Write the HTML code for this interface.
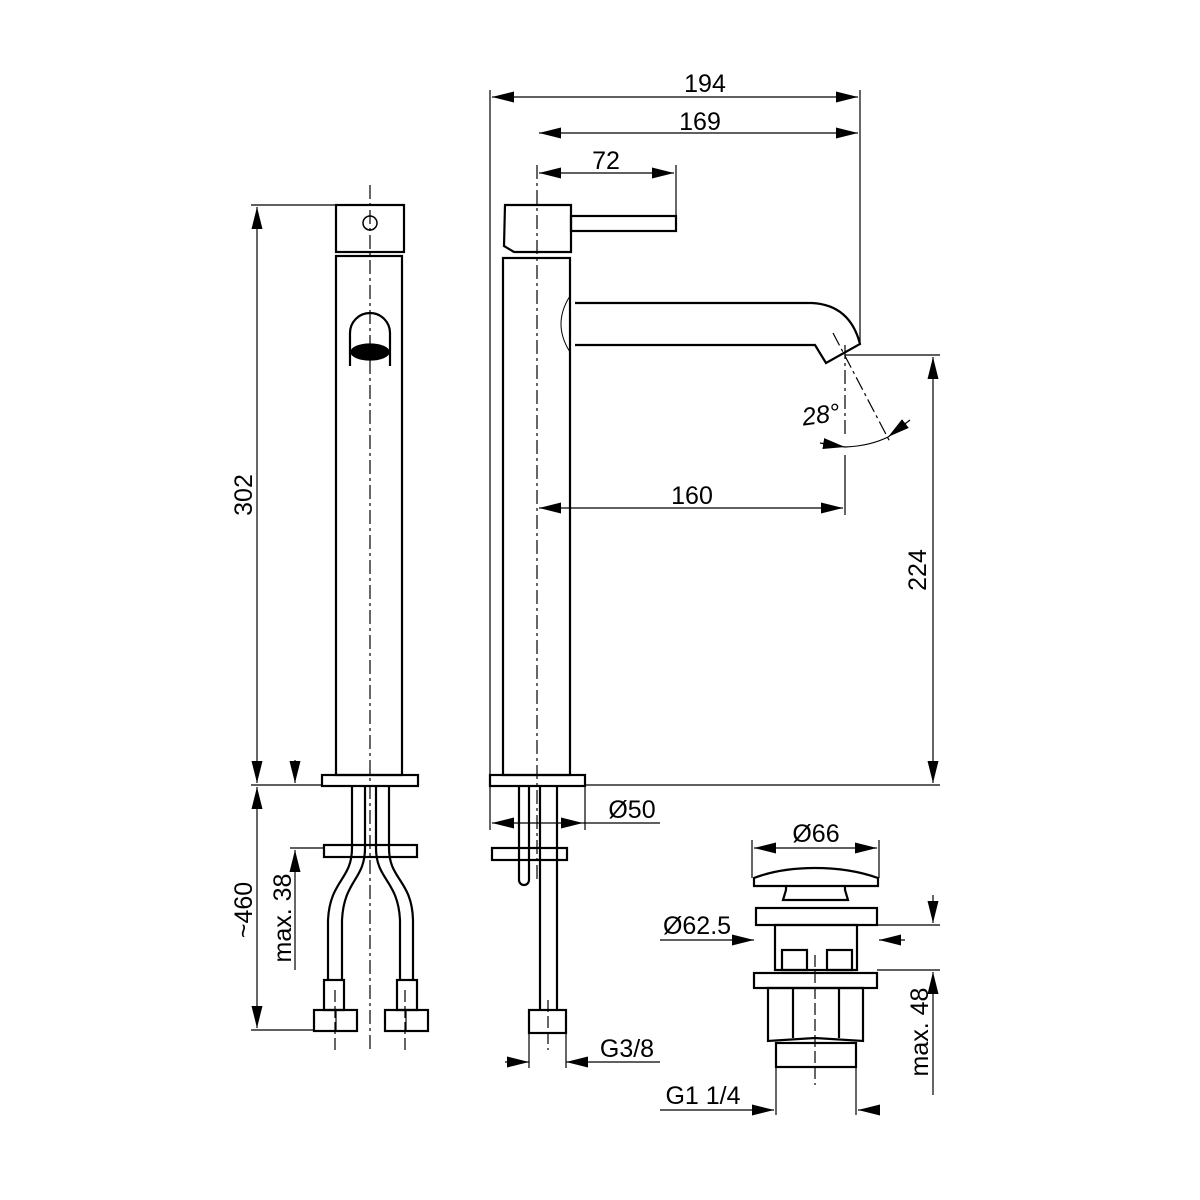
<!DOCTYPE html>
<html><head><style>body{margin:0;background:#fff}svg{display:block}text{font-family:"Liberation Sans",sans-serif;font-size:25px;fill:#000}</style></head>
<body>
<svg width="1200" height="1200" viewBox="0 0 1200 1200" xmlns="http://www.w3.org/2000/svg">
<defs>
<marker id="a" viewBox="0 0 22 11" refX="22" refY="5.5" markerWidth="22" markerHeight="11" markerUnits="userSpaceOnUse" orient="auto-start-reverse"><path d="M0,0L22,5.5L0,11z" fill="#000"/></marker>
</defs>
<g stroke="#000" fill="none" stroke-width="1.2">
<line x1="251" y1="205" x2="404" y2="205"/>
<line x1="257" y1="207" x2="257" y2="783" marker-start="url(#a)" marker-end="url(#a)"/>
<line x1="251" y1="785" x2="322" y2="785"/>
<line x1="257" y1="787" x2="257" y2="1028" marker-start="url(#a)" marker-end="url(#a)"/>
<line x1="251" y1="1030" x2="314" y2="1030"/>
<line x1="295" y1="760" x2="295" y2="783" marker-end="url(#a)"/>
<line x1="295" y1="850" x2="295" y2="970" marker-start="url(#a)"/>
<line x1="290" y1="848" x2="324" y2="848"/>
<g stroke-width="2.2">
<rect x="336" y="205" width="68" height="47"/>
<rect x="336" y="256" width="66" height="519"/>
<rect x="322" y="775" width="96" height="11"/>
<path d="M350,366 V333 A20,20 0 0 1 390,333 V366"/>
<rect x="324" y="845" width="93" height="12"/>
<path d="M352,786 V848 C352,880 330,880 328,920 V980 M365,786 V848 C365,880 344,880 342,920 V980"/>
<path d="M376,786 V848 C376,880 398,880 400,920 V980 M389,786 V848 C389,880 412,880 413,920 V980"/>
<rect x="324" y="980" width="20" height="30"/><rect x="397" y="980" width="20" height="30"/>
<rect x="314" y="1010" width="43" height="21"/><rect x="385" y="1010" width="43" height="21"/>
</g>
<circle cx="370" cy="223" r="7" stroke-width="1.5"/>
<ellipse cx="370" cy="352" rx="19" ry="8" fill="#000"/>
<line x1="336" y1="1010" x2="336" y2="1031"/><line x1="406" y1="1010" x2="406" y2="1031"/>
<line x1="370" y1="185" x2="370" y2="1050" stroke-dasharray="14,4,3,4"/>
<line x1="335" y1="990" x2="335" y2="1050" stroke-dasharray="12,4"/>
<line x1="405" y1="990" x2="405" y2="1050" stroke-dasharray="12,4"/>

<line x1="490" y1="90" x2="490" y2="830"/>
<line x1="860" y1="90" x2="860" y2="345"/>
<line x1="492" y1="97" x2="858" y2="97" marker-start="url(#a)" marker-end="url(#a)"/>
<line x1="539" y1="133" x2="858" y2="133" marker-start="url(#a)" marker-end="url(#a)"/>
<line x1="539" y1="173" x2="674" y2="173" marker-start="url(#a)" marker-end="url(#a)"/>
<line x1="676" y1="165" x2="676" y2="216"/>
<line x1="539" y1="508" x2="843" y2="508" marker-start="url(#a)" marker-end="url(#a)"/>
<line x1="845" y1="455" x2="845" y2="515"/>
<line x1="845" y1="355" x2="940" y2="355"/>
<line x1="585" y1="785" x2="940" y2="785"/>
<line x1="933" y1="357" x2="933" y2="783" marker-start="url(#a)" marker-end="url(#a)"/>
<line x1="845" y1="345" x2="845" y2="435" stroke-dasharray="14,4,3,4"/>
<line x1="833" y1="333" x2="890" y2="442" stroke-dasharray="14,4,3,4"/>
<path d="M845,447 Q870,446 888,437"/>
<line x1="820" y1="443" x2="845" y2="447" marker-end="url(#a)"/>
<line x1="910" y1="420" x2="888" y2="437" marker-end="url(#a)"/>
<g stroke-width="2.2">
<path d="M505,205 L571,205 V252 H514 L504,246 Z"/>
<rect x="571" y="216" width="105" height="15"/>
<rect x="503" y="258" width="67" height="517"/>
<path d="M575,303 H812 Q850,305 860,344 L826,363 L815,345 H575"/>
<rect x="490" y="775" width="95" height="11"/>
<rect x="492" y="848" width="75" height="12"/>
<path d="M540,786 V1010 M557,786 V1010"/>
<path d="M519,786 V880 A5,5 0 0 0 529,880 V786"/>
<rect x="529" y="1010" width="37" height="23"/>
</g>
<path d="M570,296 Q552,324 570,352" stroke-width="1"/>
<line x1="537" y1="165" x2="537" y2="880" stroke-dasharray="14,4,3,4"/>
<line x1="548" y1="1000" x2="548" y2="1050" stroke-dasharray="12,4"/>
<line x1="585" y1="786" x2="585" y2="830"/>
<line x1="492" y1="823" x2="583" y2="823" marker-start="url(#a)" marker-end="url(#a)"/>
<line x1="583" y1="823" x2="660" y2="823"/>
<line x1="529" y1="1033" x2="529" y2="1068"/><line x1="566" y1="1033" x2="566" y2="1068"/>
<line x1="505" y1="1062" x2="529" y2="1062" marker-end="url(#a)"/>
<line x1="590" y1="1062" x2="566" y2="1062" marker-end="url(#a)"/>
<line x1="590" y1="1062" x2="660" y2="1062"/>

<line x1="752" y1="840" x2="752" y2="878"/><line x1="879" y1="840" x2="879" y2="878"/>
<line x1="754" y1="848" x2="877" y2="848" marker-start="url(#a)" marker-end="url(#a)"/>
<g stroke-width="2.2">
<path d="M754,886 H878 V878 Q850,868 815,868 Q780,868 754,878 Z"/>
<path d="M786,886 V890 L783,900 H848 L845,890 V886"/>
<rect x="756" y="908" width="121" height="17"/>
<rect x="775" y="925" width="82" height="45"/>
<rect x="782" y="950" width="25" height="20"/><rect x="827" y="950" width="25" height="20"/>
<rect x="754" y="973" width="123" height="15"/>
<path d="M768,988 H863 V1041 L815,1038 L768,1041 Z"/>
<rect x="776" y="1043" width="80" height="24"/>
<line x1="793" y1="988" x2="793" y2="1038"/><line x1="839" y1="988" x2="839" y2="1038"/>
</g>
<line x1="815" y1="955" x2="815" y2="1085" stroke-dasharray="12,4"/>
<line x1="660" y1="940" x2="754" y2="940" marker-end="url(#a)"/>
<line x1="905" y1="940" x2="879" y2="940" marker-end="url(#a)"/>
<line x1="877" y1="925" x2="940" y2="925"/><line x1="877" y1="970" x2="940" y2="970"/>
<line x1="933" y1="895" x2="933" y2="923" marker-end="url(#a)"/>
<line x1="933" y1="1095" x2="933" y2="972" marker-end="url(#a)"/>
<line x1="776" y1="1067" x2="776" y2="1115"/><line x1="856" y1="1067" x2="856" y2="1115"/>
<line x1="660" y1="1110" x2="774" y2="1110" marker-end="url(#a)"/>
<line x1="880" y1="1110" x2="858" y2="1110" marker-end="url(#a)"/>
</g>
<text x="705" y="92" text-anchor="middle">194</text>
<text x="700" y="130" text-anchor="middle">169</text>
<text x="606" y="169" text-anchor="middle">72</text>
<text x="692" y="504" text-anchor="middle">160</text>
<text x="822" y="423" text-anchor="middle" font-style="italic" transform="rotate(-8 822 423)">28°</text>
<text transform="translate(926,570) rotate(-90)" text-anchor="middle">224</text>
<text transform="translate(252,495) rotate(-90)" text-anchor="middle">302</text>
<text transform="translate(252,910) rotate(-90)" text-anchor="middle">~460</text>
<text transform="translate(291,918) rotate(-90)" text-anchor="middle">max. 38</text>
<text x="632" y="818" text-anchor="middle">Ø50</text>
<text x="627" y="1057" text-anchor="middle">G3/8</text>
<text x="816" y="842" text-anchor="middle">Ø66</text>
<text x="697" y="934" text-anchor="middle">Ø62.5</text>
<text transform="translate(928,1032) rotate(-90)" text-anchor="middle">max. 48</text>
<text x="703" y="1104" text-anchor="middle">G1 1/4</text>
</svg>
</body></html>
